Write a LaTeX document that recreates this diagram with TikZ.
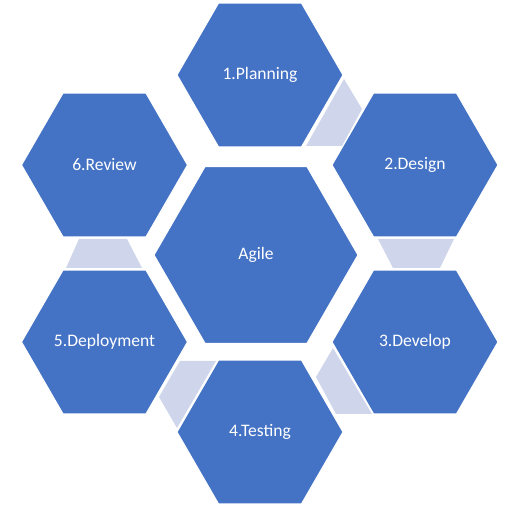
\documentclass[tikz,border=0pt]{standalone}
\usepackage{fontspec}
\setmainfont{Carlito}
\usetikzlibrary{shapes.geometric}
\definecolor{hexblau}{HTML}{4472C4}
\definecolor{hexhell}{HTML}{CFD5EA}
\begin{document}
\begin{tikzpicture}[x=0.02cm,y=-0.02cm,
	hexfeld/.style={regular polygon, regular polygon sides=6, fill=hexblau, draw=white, line width=0.6pt,
		text=white, inner sep=0pt, outer sep=0pt, minimum size=3.32cm, font=\fontsize{10}{12}\selectfont},
	verbinder/.style={fill=hexhell}]
	\useasboundingbox (0,0) rectangle (525,519);
	
	% Verbinder zwischen den Feldern
	\fill[verbinder] (344,79) -- (362,109) -- (342,146) -- (306,146) -- cycle;
	\fill[verbinder] (378,239) -- (454,239) -- (440,268) -- (393,268) -- cycle;
	\fill[verbinder] (333,348) -- (316,377) -- (336,414) -- (372,414) -- cycle;
	\fill[verbinder] (180,361) -- (216,361) -- (177,428) -- (159,397) -- cycle;
	\fill[verbinder] (79,239) -- (127,239) -- (142,268) -- (66,268) -- cycle;
	
	% Sechsecke mit Beschriftung
	\node[hexfeld, minimum size=4.08cm] (agile) at (256,255) {\raisebox{-1pt}{Agile}};
	\node[hexfeld] (planung) at (260,75) {\raisebox{-1pt}{1.Planning}};
	\node[hexfeld] (entwurf) at (415,165) {\raisebox{-1pt}{2.Design}};
	\node[hexfeld] (entwicklung) at (415,342) {\raisebox{-1pt}{3.Develop}};
	\node[hexfeld] (test) at (260,432) {\raisebox{-1pt}{4.Testing}};
	\node[hexfeld] (auslieferung) at (104.5,342) {\raisebox{-1pt}{5.Deployment}};
	\node[hexfeld] (review) at (104.5,165) {\raisebox{-1pt}{6.Review}};
	
\end{tikzpicture}
\end{document}
